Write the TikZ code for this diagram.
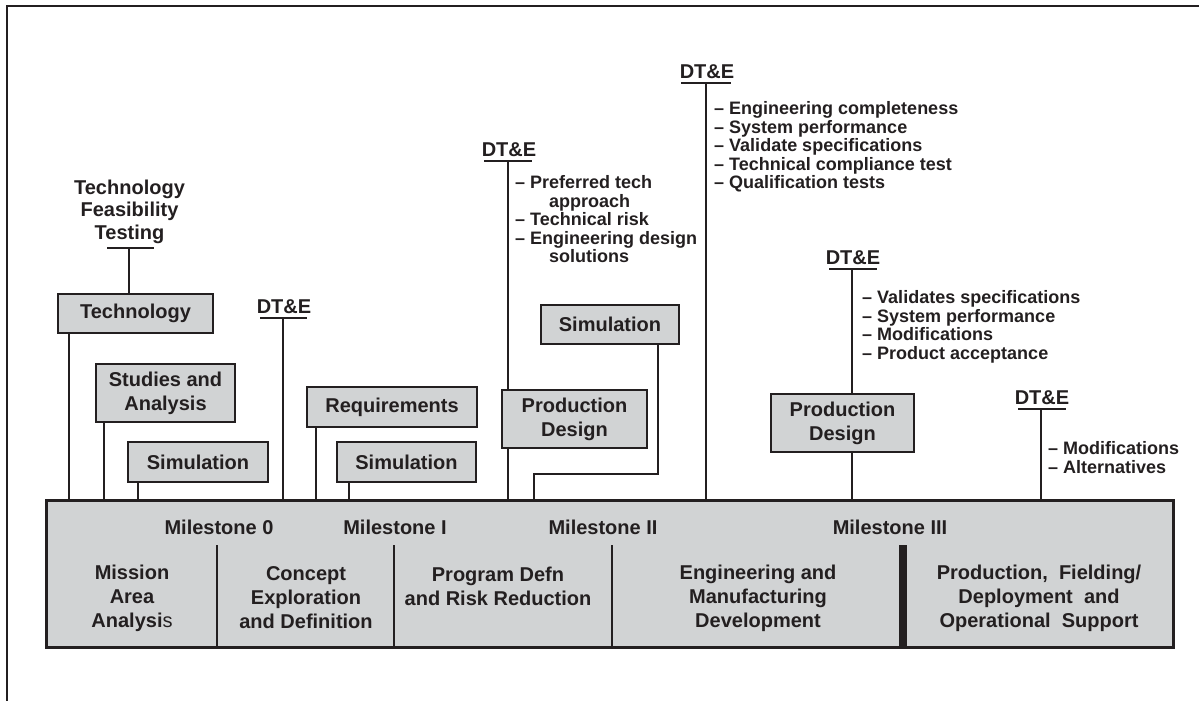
\documentclass[tikz,border=0pt]{standalone}
\usepackage{fontspec}
\setmainfont{Liberation Sans}
\definecolor{ink}{HTML}{231F20}
\definecolor{boxgray}{HTML}{D1D3D4}
\begin{document}
\begin{tikzpicture}[x=1pt,y=-1pt,
  every node/.style={font=\bfseries\fontsize{20}{24}\selectfont, inner sep=0pt, text=ink},
  box/.style={draw=ink, fill=boxgray, line width=2.3pt, align=center},
  conn/.style={draw=ink, line width=2pt},
  uline/.style={draw=ink, line width=2.6pt},
  bul/.style={font=\bfseries\fontsize{18}{18.5}\selectfont, anchor=north west, align=left},
  dte/.style={anchor=base}]
\useasboundingbox (0,0) rectangle (1199,701);
% frame
\draw[ink, line width=2.5pt] (7,701) -- (7,6) -- (1199,6);

% bottom bar
\node[box, line width=2.5pt, minimum width=1127pt, minimum height=147pt, anchor=north west] (bar) at (45,499) {};
\draw[conn] (217,545) -- (217,646);
\draw[conn] (394,545) -- (394,646);
\draw[conn] (612,545) -- (612,646);
\fill[ink] (899,545) rectangle (907,646);

\node[anchor=base] (m0) at (219,534) {Milestone 0};
\node[anchor=base] (m1) at (395,534) {Milestone I};
\node[anchor=base] (m2) at (603,534) {Milestone II};
\node[anchor=base] (m3) at (890,534) {Milestone III};

\node[align=center] (p1) at (132,598) {Mission\\Area\\Analysi{\mdseries s}};
\node[align=center] (p2) at (306,598) {Concept\\Exploration\\and Definition};
\node[align=center] (p3) at (498,586) {Program Defn\\and Risk Reduction};
\node[align=center] (p4) at (758,598) {Engineering and\\Manufacturing\\Development};
\node[align=center] (p5) at (1039,598) {Production,\ \ Fielding/\\Deployment\ \ and\\Operational\ \ Support};

% boxes
\node[box, minimum width=155pt, minimum height=39pt] (tech) at (135.5,313.5) {Technology};
\node[box, minimum width=139pt, minimum height=58pt] (stud) at (165.5,393) {Studies and\\Analysis};
\node[box, minimum width=140pt, minimum height=40pt] (sim1) at (198,462) {Simulation};
\node[box, minimum width=170pt, minimum height=40pt] (req) at (392,407) {Requirements};
\node[box, minimum width=139pt, minimum height=40pt] (sim2) at (406.5,462) {Simulation};
\node[box, minimum width=138pt, minimum height=39pt] (sim3) at (610,324.5) {Simulation};
\node[box, minimum width=145pt, minimum height=58pt] (pd1) at (574.5,419) {Production\\Design};
\node[box, minimum width=143pt, minimum height=58pt] (pd2) at (842.5,423) {Production\\Design};

% x positions of connectors
\coordinate (xt) at (69,0);
\coordinate (xs) at (104,0);
\coordinate (x1) at (138,0);
\coordinate (xr) at (316,0);
\coordinate (x2) at (349,0);
\coordinate (x3) at (658,0);
\coordinate (x3b) at (534,474);

\draw[conn] (tech.south -| xt) -- (bar.north -| xt);
\draw[conn] (stud.south -| xs) -- (bar.north -| xs);
\draw[conn] (sim1.south -| x1) -- (bar.north -| x1);
\draw[conn] (req.south -| xr) -- (bar.north -| xr);
\draw[conn] (sim2.south -| x2) -- (bar.north -| x2);
\draw[conn] (sim3.south -| x3) |- (x3b) -- (bar.north -| x3b);

% Technology Feasibility Testing
\node[align=center, font=\bfseries\fontsize{20}{22.5}\selectfont] (tft) at (129.5,211.5) {Technology\\Feasibility\\Testing};
\coordinate (tftu) at (129,248);
\draw[uline] (107,248) -- (154,248);
\draw[conn] (tftu) -- (tech.north -| tftu);

% DT&E 1
\node[dte] (dt1) at (284,313) {DT\&E};
\coordinate (d1) at (283,318);
\draw[uline] (260,318) -- (307,318);
\draw[conn] (d1) -- (bar.north -| d1);

% DT&E 2
\node[dte] (dt2) at (509,156) {DT\&E};
\coordinate (d2) at (508,161);
\draw[uline] (484,161) -- (532,161);
\draw[conn] (d2) -- (pd1.north -| d2);
\draw[conn] (pd1.south -| d2) -- (bar.north -| d2);
\node[bul] (b2) at (515,175.5) {-- Preferred tech\\\hspace*{34pt}approach\\-- Technical risk\\-- Engineering design\\\hspace*{34pt}solutions};

% DT&E 3
\node[dte] (dt3) at (707,78) {DT\&E};
\coordinate (d3) at (706,83);
\draw[uline] (681,83) -- (731,83);
\draw[conn] (d3) -- (bar.north -| d3);
\node[bul] (b3) at (714,101.5) {-- Engineering completeness\\-- System performance\\-- Validate specifications\\-- Technical compliance test\\-- Qualification tests};

% DT&E 4
\node[dte] (dt4) at (853,264) {DT\&E};
\coordinate (d4) at (852,269);
\draw[uline] (829,269) -- (877,269);
\draw[conn] (d4) -- (pd2.north -| d4);
\draw[conn] (pd2.south -| d4) -- (bar.north -| d4);
\node[bul] (b4) at (862,290.5) {-- Validates specifications\\-- System performance\\-- Modifications\\-- Product acceptance};

% DT&E 5
\node[dte] (dt5) at (1042,404) {DT\&E};
\coordinate (d5) at (1041,409);
\draw[uline] (1018,409) -- (1066,409);
\draw[conn] (d5) -- (bar.north -| d5);
\node[bul] (b5) at (1048,441.5) {-- Modifications\\-- Alternatives};
\end{tikzpicture}
\end{document}
